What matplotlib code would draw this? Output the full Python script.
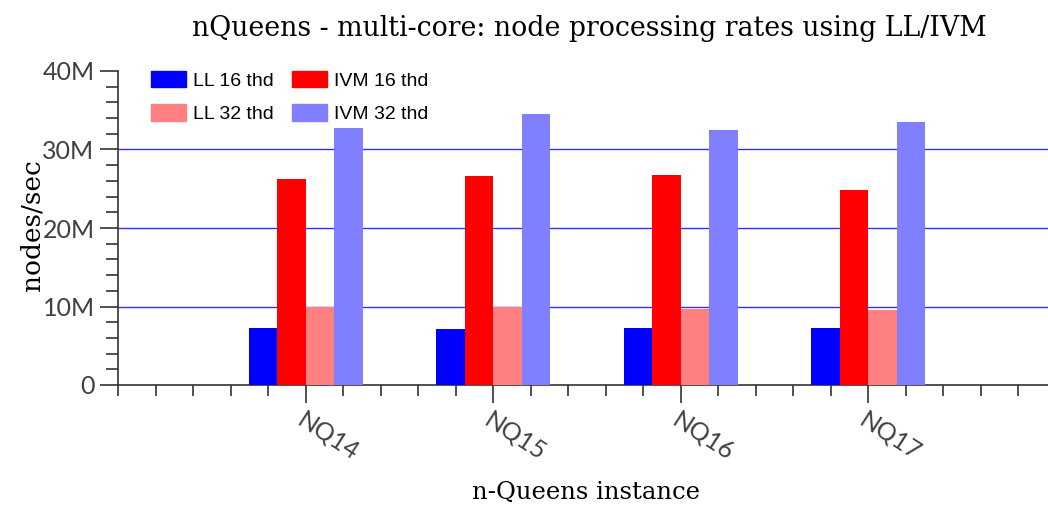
"""
nQueens multi-core node processing rates (LL vs IVM), grouped bars.
"""

import matplotlib
matplotlib.use("Agg")
import matplotlib.pyplot as plt
from matplotlib.patches import Patch
from matplotlib.ticker import FuncFormatter, MultipleLocator
import numpy as np


instances = ["NQ14", "NQ15", "NQ16", "NQ17"]

# nodes/sec, in millions
ll_16 = [7.22, 7.17, 7.22, 7.30]
ivm_16 = [26.24, 26.58, 26.79, 24.88]
ll_32 = [9.97, 9.97, 9.72, 9.55]
ivm_32 = [32.74, 34.56, 32.52, 33.54]

series = [
    ("LL 16 thd", ll_16, "#0000ff"),
    ("IVM 16 thd", ivm_16, "#ff0000"),
    ("LL 32 thd", ll_32, "#ff8080"),
    ("IVM 32 thd", ivm_32, "#8080ff"),
]

SERIF = ["DejaVu Serif"]
TICK_FONT = ["Lato", "DejaVu Sans"]
LEGEND_FONT = ["Liberation Sans", "DejaVu Sans"]


def millions(value, _pos):
    if value == 0:
        return "0"
    return f"{value / 1e6:.0f}M"


def main():
    fig = plt.figure(figsize=(10.48, 5.07), dpi=100)
    # axes deliberately runs a little past the right edge, like the original
    ax = fig.add_axes([118.2 / 1048, 1 - 385 / 507, 937.5 / 1048, 314 / 507])

    x = np.arange(1, len(instances) + 1)
    width = 0.152
    offsets = [-1.5, -0.5, 0.5, 1.5]

    for (label, values, color), off in zip(series, offsets):
        ax.bar(x + off * width, np.array(values) * 1e6, width,
               color=color, label=label, zorder=3)

    for level in (10e6, 20e6, 30e6):
        ax.axhline(level, color="#3030ff", linewidth=1.0, zorder=1)

    ax.set_xlim(0, 5)
    ax.set_ylim(0, 40e6)

    ax.yaxis.set_major_locator(MultipleLocator(10e6))
    ax.yaxis.set_minor_locator(MultipleLocator(2e6))
    ax.yaxis.set_major_formatter(FuncFormatter(millions))
    ax.set_xticks(x)
    ax.xaxis.set_minor_locator(MultipleLocator(0.2))

    for side in ("top", "right"):
        ax.spines[side].set_visible(False)
    for side in ("left", "bottom"):
        ax.spines[side].set_color("#333333")
        ax.spines[side].set_linewidth(1.2)

    ax.tick_params(axis="y", which="major", length=13, width=1.2,
                   color="#333333", pad=4)
    ax.tick_params(axis="y", which="minor", length=9, width=1.2, color="#333333")
    ax.tick_params(axis="x", which="major", length=13, width=1.2,
                   color="#333333")
    ax.tick_params(axis="x", which="minor", length=8, width=1.2, color="#333333")

    for lab in ax.get_yticklabels():
        lab.set_family(TICK_FONT)
        lab.set_fontsize(18)
        lab.set_color("#404040")

    ax.set_xticklabels(instances, rotation=-33, ha="left", va="top",
                       rotation_mode="anchor", family=TICK_FONT,
                       fontsize=18, color="#404040")

    fig.text(32 / 1048, 1 - 225 / 507, "nodes/sec", family=SERIF,
             fontsize=19, ha="center", va="center", rotation=90)
    fig.text(586 / 1048, 1 - 492 / 507, "n-Queens instance", family=SERIF,
             fontsize=17.5, ha="center", va="center")
    fig.text(589 / 1048, 1 - 28 / 507,
             "nQueens - multi-core: node processing rates using LL/IVM",
             family=SERIF, fontsize=19.3, ha="center", va="center")

    handles = [Patch(color=c, label=l) for l, _, c in series]
    order = [0, 2, 1, 3]
    ax.legend([handles[i] for i in order], [series[i][0] for i in order],
              ncol=2, frameon=False, loc="upper left",
              bbox_to_anchor=(151 / 1048, 1 - 71 / 507),
              bbox_transform=fig.transFigure, borderpad=0, borderaxespad=0,
              prop={"family": LEGEND_FONT, "size": 14},
              handlelength=1.8, handleheight=0.9, handletextpad=0.36,
              columnspacing=0.95, labelspacing=0.75)

    fig.savefig("out.png", dpi=100)
    plt.close(fig)


if __name__ == "__main__":
    main()
